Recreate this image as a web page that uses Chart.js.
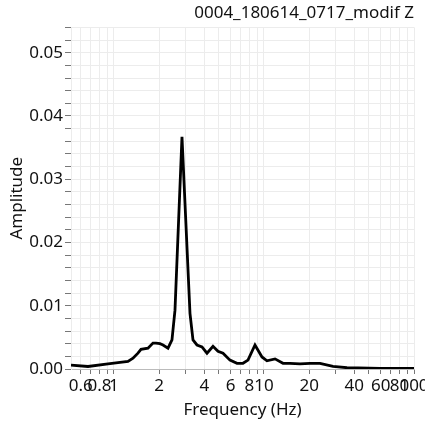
<!DOCTYPE html>
<html>
<head>
<meta charset="utf-8">
<script src="https://cdn.jsdelivr.net/npm/chart.js@4.4.1/dist/chart.umd.min.js"></script>
<style>
  html, body { margin: 0; padding: 0; background: #fff; }
  #wrap { width: 425px; height: 427px; }
</style>
</head>
<body>
<div id="wrap"><canvas id="spectrum" width="425" height="427"></canvas></div>
<script>
// spectrum
const freqs = [0.517, 0.671, 0.912, 1.063, 1.24, 1.339, 1.445, 1.514, 1.685, 1.82, 1.905, 2.026, 2.122, 2.291, 2.436, 2.551, 2.84, 3.211, 3.363, 3.575, 3.861, 4.169, 4.571, 4.935, 5.331, 5.933, 6.607, 7.244, 7.822, 8.71, 9.697, 10.47, 11.84, 13.39, 14.91, 17.38, 20.26, 23.63, 28.84, 35.75, 59.3, 100];
const amps = [0.0006, 0.0004, 0.0008, 0.001, 0.0012, 0.0017, 0.0025, 0.0031, 0.0033, 0.0041, 0.0041, 0.004, 0.0038, 0.0033, 0.0046, 0.0093, 0.0367, 0.0088, 0.0046, 0.0038, 0.0035, 0.0025, 0.0036, 0.0028, 0.0025, 0.0014, 0.0009, 0.0009, 0.0014, 0.0038, 0.0019, 0.0013, 0.0016, 0.0009, 0.0009, 0.0008, 0.0009, 0.0009, 0.0004, 0.0002, 0.0001, 0.0001];

const xTickValues = [0.6, 0.7, 0.8, 0.9, 1, 2, 3, 4, 5, 6, 7, 8, 9, 10, 20, 30, 40, 50, 60, 70, 80, 90, 100];
const xTickLabels = [0.6, 0.8, 1, 2, 4, 6, 8, 10, 20, 40, 60, 80, 100];

const font = 'Noto Sans';

const ctx = document.getElementById('spectrum').getContext('2d');

new Chart(ctx, {
  type: 'line',
  data: {
    datasets: [{
      data: freqs.map((f, i) => ({ x: f, y: amps[i] })),
      borderColor: '#000',
      borderWidth: 2.8,
      pointRadius: 0,
      tension: 0,
      fill: false
    }]
  },
  options: {
    responsive: false,
    animation: false,
    layout: { padding: { left: 0, right: 11, top: 0, bottom: 0 } },
    plugins: {
      legend: { display: false },
      tooltip: { enabled: false },
      title: {
        display: true,
        text: '0004_180614_0717_modif Z',
        align: 'end',
        color: '#111',
        font: { family: font, size: 17, weight: 'normal' },
        padding: { top: 3, bottom: 4 }
      }
    },
    scales: {
      x: {
        type: 'logarithmic',
        min: 0.517,
        max: 100,
        afterBuildTicks: scale => {
          scale.ticks = xTickValues.map(v => ({ value: v }));
        },
        afterFit: scale => {
          scale.height = 58;
          scale.paddingLeft = 0;
          scale.paddingRight = 0;
        },
        ticks: {
          autoSkip: false,
          maxRotation: 0,
          minRotation: 0,
          padding: 2,
          color: '#111',
          font: { family: font, size: 17 },
          callback: v => xTickLabels.includes(v) ? String(v) : ''
        },
        grid: {
          color: '#ececec',
          tickColor: '#777',
          tickLength: 5,
          drawTicks: true
        },
        border: { color: '#bbb' },
        title: {
          display: true,
          text: 'Frequency (Hz)',
          color: '#111',
          font: { family: font, size: 17 },
          padding: { top: 0, bottom: 7 }
        }
      },
      y: {
        min: 0,
        max: 0.054,
        afterFit: scale => { scale.width = 71; },
        ticks: {
          stepSize: 0.002,
          autoSkip: false,
          padding: 2,
          color: '#111',
          font: { family: font, size: 17 },
          callback: v => {
            const c = v * 100;
            return Math.abs(c - Math.round(c)) < 1e-6 ? v.toFixed(2) : '';
          }
        },
        grid: {
          color: '#ececec',
          tickColor: '#777',
          tickLength: 6
        },
        border: { color: '#ececec' },
        title: {
          display: true,
          text: 'Amplitude',
          color: '#111',
          font: { family: font, size: 17 },
          padding: { top: 7, bottom: 0 }
        }
      }
    }
  }
});
</script>
</body>
</html>
